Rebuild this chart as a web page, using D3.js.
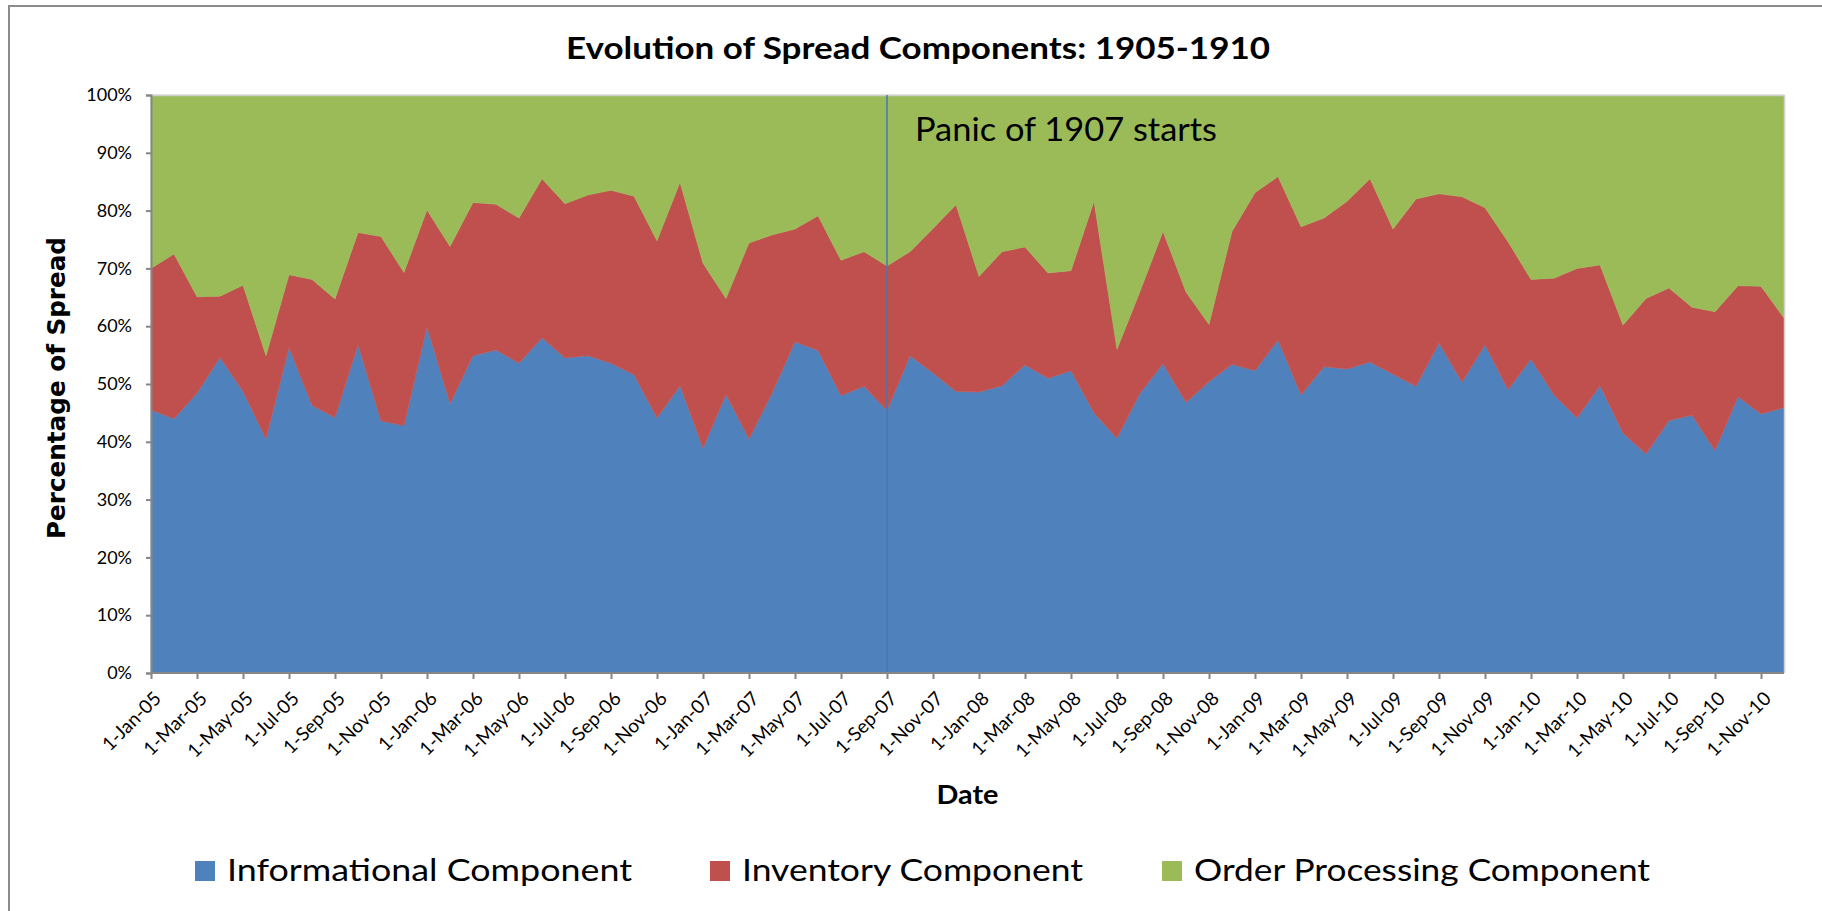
<!DOCTYPE html>
<html>
<head>
<meta charset="utf-8">
<script src="https://cdn.jsdelivr.net/npm/d3@7"></script>
<style>
  body { margin: 0; background: #fff; }
  text { font-family: Lato, "Open Sans", sans-serif; fill: #000; }
</style>
</head>
<body>
<script>
// monthly values, Jan 1905 .. Dec 1910 (percent of spread)
var informational = [45.5, 44.0, 48.4, 54.6, 48.7, 40.5, 56.3, 46.3, 44.2, 56.8, 43.6, 42.8,
  59.9, 46.6, 54.9, 55.9, 53.6, 58.0, 54.5, 54.9, 53.6, 51.6, 44.1, 49.7,
  38.9, 48.2, 40.5, 48.4, 57.3, 55.8, 48.0, 49.6, 45.4, 54.9, 51.9, 48.7,
  48.6, 49.7, 53.3, 51.0, 52.3, 45.0, 40.6, 48.4, 53.5, 46.8, 50.4, 53.4,
  52.3, 57.6, 48.1, 53.0, 52.6, 53.8, 51.7, 49.6, 57.1, 50.3, 56.8, 49.0,
  54.3, 48.1, 44.1, 49.7, 41.5, 37.9, 43.7, 44.6, 38.5, 47.8, 44.8, 45.9];
var inventory = [24.5, 28.5, 16.7, 10.6, 18.4, 14.4, 12.6, 21.8, 20.5, 19.4, 31.9, 26.5,
  20.2, 27.2, 26.5, 25.2, 25.1, 27.5, 26.7, 27.8, 29.9, 30.9, 30.7, 35.2,
  32.0, 16.6, 33.9, 27.4, 19.5, 23.3, 23.4, 23.3, 25.0, 18.0, 25.0, 32.3,
  20.0, 23.2, 20.4, 18.2, 17.3, 36.6, 15.4, 17.6, 22.9, 19.1, 9.9, 23.0,
  30.8, 28.3, 29.1, 25.7, 29.0, 31.7, 25.1, 32.4, 25.8, 32.1, 23.7, 25.6,
  13.8, 20.2, 25.9, 20.9, 18.7, 26.9, 22.9, 18.7, 24.0, 19.2, 22.1, 15.5];
var orderProcessing = [30.0, 27.5, 34.9, 34.8, 32.9, 45.1, 31.1, 31.9, 35.3, 23.8, 24.5, 30.7,
  19.9, 26.2, 18.6, 18.9, 21.3, 14.5, 18.8, 17.3, 16.5, 17.5, 25.2, 15.1,
  29.1, 35.2, 25.6, 24.2, 23.2, 20.9, 28.6, 27.1, 29.6, 27.1, 23.1, 19.0,
  31.4, 27.1, 26.3, 30.8, 30.4, 18.4, 44.0, 34.0, 23.6, 34.1, 39.7, 23.6,
  16.9, 14.1, 22.8, 21.3, 18.4, 14.5, 23.2, 18.0, 17.1, 17.6, 19.5, 25.4,
  31.9, 31.7, 30.0, 29.4, 39.8, 35.2, 33.4, 36.7, 37.5, 33.0, 33.1, 38.6];

var seriesNames = ["Informational Component", "Inventory Component", "Order Processing Component"];
var seriesColors = ["#4F81BD", "#C0504D", "#9BBB59"];

// x tick labels, one every two months
var tickLabels = ["1-Jan-05","1-Mar-05","1-May-05","1-Jul-05","1-Sep-05","1-Nov-05",
  "1-Jan-06","1-Mar-06","1-May-06","1-Jul-06","1-Sep-06","1-Nov-06",
  "1-Jan-07","1-Mar-07","1-May-07","1-Jul-07","1-Sep-07","1-Nov-07",
  "1-Jan-08","1-Mar-08","1-May-08","1-Jul-08","1-Sep-08","1-Nov-08",
  "1-Jan-09","1-Mar-09","1-May-09","1-Jul-09","1-Sep-09","1-Nov-09",
  "1-Jan-10","1-Mar-10","1-May-10","1-Jul-10","1-Sep-10","1-Nov-10"];
var yTicks = [0, 10, 20, 30, 40, 50, 60, 70, 80, 90, 100];

var panicIndex = 32; // 1-Sep-07
var panicLabel = "Panic of 1907 starts";

var W = 1822, H = 911;
var plotL = 151, plotR = 1784, plotT = 95, plotB = 673;

var svg = d3.select("body").append("svg")
  .attr("width", W).attr("height", H);

// outer chart border (runs off the right and bottom of the picture)
svg.append("rect")
  .attr("x", 9).attr("y", 6).attr("width", 1900).attr("height", 1000)
  .attr("fill", "#fff").attr("stroke", "#8c8c8c").attr("stroke-width", 2);

var rows = informational.map(function(v, i) {
  return { i: i, a: v, b: inventory[i], c: orderProcessing[i] };
});
var stack = d3.stack().keys(["a", "b", "c"]).offset(d3.stackOffsetExpand);
var layers = stack(rows);

var x = d3.scaleLinear().domain([0, rows.length - 1]).range([plotL, plotR]);
var y = d3.scaleLinear().domain([0, 1]).range([plotB, plotT]);

var area = d3.area()
  .x(function(d) { return x(d.data.i); })
  .y0(function(d) { return y(d[0]); })
  .y1(function(d) { return y(d[1]); });

svg.append("g").selectAll("path")
  .data(layers)
  .enter().append("path")
  .attr("d", area)
  .attr("fill", function(d, k) { return seriesColors[k]; })
  .attr("stroke", function(d, k) { return seriesColors[k]; })
  .attr("stroke-width", 0.5);

// plot area outline (top / right)
svg.append("path")
  .attr("d", "M" + plotL + "," + (plotT + 0.5) + "H" + (plotR + 0.5) + "V" + plotB)
  .attr("fill", "none").attr("stroke", "#d0d0d0").attr("stroke-width", 1.5);

// Panic marker
svg.append("line")
  .attr("x1", x(panicIndex)).attr("x2", x(panicIndex))
  .attr("y1", plotT).attr("y2", plotB)
  .attr("stroke", "#4677b0").attr("stroke-width", 1.5);
svg.append("text")
  .attr("x", x(panicIndex) + 28).attr("y", 141)
  .attr("font-size", 33)
  .attr("textLength", 302).attr("lengthAdjust", "spacingAndGlyphs")
  .text(panicLabel);

// y axis
var yAxis = d3.axisLeft(y)
  .tickValues(yTicks.map(function(t) { return t / 100; }))
  .tickFormat(function(d) { return Math.round(d * 100) + "%"; })
  .tickSize(5).tickPadding(14);
var gy = svg.append("g").attr("transform", "translate(" + plotL + ",0)").call(yAxis);
gy.select(".domain").attr("stroke", "#868686").attr("stroke-width", 2);
gy.selectAll(".tick line").attr("stroke", "#868686").attr("stroke-width", 2);
gy.selectAll("text").attr("font-size", 18).attr("fill", "#000")
  .style("font-family", "Lato, sans-serif");

// x axis
var tickIdx = tickLabels.map(function(t, k) { return k * 2; });
var xAxis = d3.axisBottom(x).tickValues(tickIdx)
  .tickFormat(function(d, k) { return tickLabels[k]; })
  .tickSize(6).tickSizeOuter(0);
var gx = svg.append("g").attr("transform", "translate(0," + plotB + ")").call(xAxis);
gx.select(".domain").attr("stroke", "#868686").attr("stroke-width", 2)
  .attr("d", "M" + plotL + ",0H" + plotR);
gx.selectAll(".tick line").attr("stroke", "#868686").attr("stroke-width", 2);
gx.selectAll("text")
  .attr("font-size", 19).attr("fill", "#000")
  .style("font-family", "Lato, sans-serif")
  .attr("text-anchor", "end")
  .attr("x", 0).attr("y", 0).attr("dy", "0.35em")
  .attr("transform", "translate(6,22) rotate(-45)");

// titles
svg.append("text")
  .attr("x", 918).attr("y", 59).attr("text-anchor", "middle")
  .attr("font-size", 31).attr("font-weight", "bold")
  .attr("textLength", 704).attr("lengthAdjust", "spacingAndGlyphs")
  .text("Evolution of Spread Components: 1905-1910");

svg.append("text")
  .attr("x", (plotL + plotR) / 2).attr("y", 804).attr("text-anchor", "middle")
  .attr("font-size", 26).attr("font-weight", "bold")
  .attr("textLength", 62).attr("lengthAdjust", "spacingAndGlyphs")
  .text("Date");

svg.append("text")
  .attr("transform", "translate(65,388) rotate(-90)")
  .attr("text-anchor", "middle")
  .attr("font-size", 24).attr("font-weight", "bold")
  .style("font-family", "'DejaVu Sans', Verdana, sans-serif")
  .attr("textLength", 302).attr("lengthAdjust", "spacingAndGlyphs")
  .text("Percentage of Spread");

// legend
var legendX = [195, 710, 1162];
var legendW = [405, 341, 456];
var lg = svg.append("g").selectAll("g")
  .data(seriesNames)
  .enter().append("g")
  .attr("transform", function(d, k) { return "translate(" + legendX[k] + ",861)"; });
lg.append("rect")
  .attr("width", 20).attr("height", 20)
  .attr("fill", function(d, k) { return seriesColors[k]; });
lg.append("text")
  .attr("x", 32).attr("y", 20)
  .attr("font-size", 31)
  .attr("textLength", function(d, k) { return legendW[k]; })
  .attr("lengthAdjust", "spacingAndGlyphs")
  .text(function(d) { return d; });
</script>
</body>
</html>
